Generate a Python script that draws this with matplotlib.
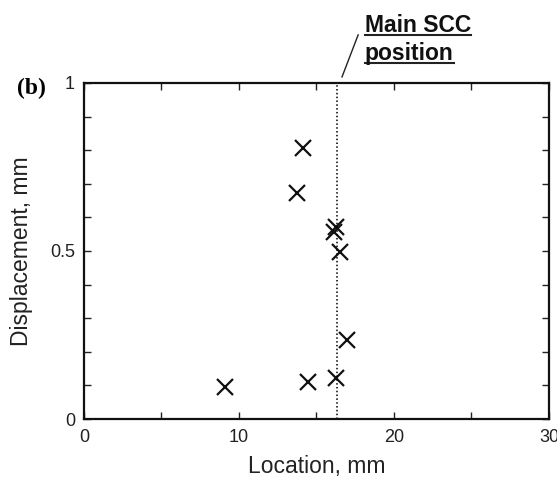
import matplotlib
matplotlib.use('Agg')
import matplotlib.pyplot as plt
from matplotlib.lines import Line2D

plt.rcParams['font.family'] = ['Liberation Sans', 'DejaVu Sans']

# data
location = [14.15, 13.72, 16.26, 16.13, 16.5, 16.95, 16.24, 14.47, 9.1]
displacement = [0.806, 0.674, 0.571, 0.557, 0.498, 0.235, 0.121, 0.111, 0.096]
scc_pos = 16.3
x_major = [0, 10, 20, 30]
x_minor = [5, 15, 25]
y_major = [0, 0.5, 1]
y_minor = [0.1, 0.2, 0.3, 0.4, 0.6, 0.7, 0.8, 0.9]
y_labels = ['0', '0.5', '1']

fig = plt.figure(figsize=(5.57, 4.78), dpi=100)
ax = fig.add_axes([0.1508, 0.1234, 0.8348, 0.703])

ax.plot(location, displacement, 'x', color='#111111', markersize=12, markeredgewidth=1.6)
ax.axvline(scc_pos, color='black', linestyle=(0, (1, 1.5)), linewidth=1.1)

ax.set_xlim(0, 30)
ax.set_ylim(0, 1)
ax.set_xticks(x_major)
ax.set_xticks(x_minor, minor=True)
ax.set_yticks(y_major)
ax.set_yticks(y_minor, minor=True)
ax.set_yticklabels(y_labels)
ax.tick_params(which='both', direction='in', top=True, right=True, length=5, width=1,
               labelsize=13, color='#222222', labelcolor='#222222')
ax.tick_params(axis='x', pad=7)
ax.tick_params(axis='y', pad=6.5)
for s in ax.spines.values():
    s.set_linewidth(1.6)
    s.set_color('#111111')

ax.set_xlabel('Location, mm', fontsize=16.5, color='#222222')
ax.set_ylabel('Displacement, mm', fontsize=16.5, color='#222222')
ax.xaxis.set_label_coords(0.5, -0.107)
ax.yaxis.set_label_coords(-0.11, 0.5)

fig.text(0.031, 0.814, '(b)', fontsize=17, fontweight='bold', family='Liberation Serif',
         va='center', ha='left')

# label for the crack position with a leader line
t1 = fig.text(0.655, 0.933, 'Main SCC', fontsize=16.5, fontweight='bold', ha='left', va='baseline',
              color='#111111')
t2 = fig.text(0.655, 0.874, 'position', fontsize=16.5, fontweight='bold', ha='left', va='baseline',
              color='#111111')
fig.add_artist(Line2D([0.614, 0.643], [0.839, 0.927], color='#222222', lw=1, transform=fig.transFigure))

fig.canvas.draw()
r = fig.canvas.get_renderer()
inv = fig.transFigure.inverted()
for t in (t1, t2):
    bb = t.get_window_extent(r).transformed(inv)
    _, yb = t.get_position()
    fig.add_artist(Line2D([bb.x0, bb.x1], [yb - 0.006, yb - 0.006], color='#222222', lw=1.5,
                          transform=fig.transFigure))

fig.savefig('out.png', dpi=100)
